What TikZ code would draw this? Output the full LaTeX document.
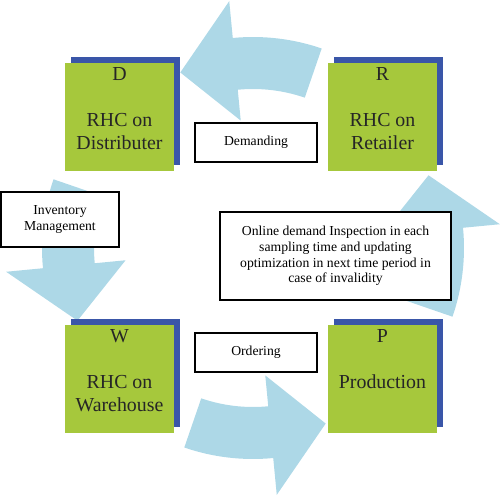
\documentclass[tikz,border=0pt]{standalone}
\usepackage{fontspec}
\setmainfont{Liberation Serif}
\usetikzlibrary{positioning,shadows}
\definecolor{boxgreen}{RGB}{166,200,60}
\definecolor{boxblue}{RGB}{58,86,168}
\definecolor{arrowblue}{RGB}{173,216,231}
\begin{document}
\begin{tikzpicture}[x=0.02cm,y=0.02cm]
    \tikzstyle{every node}=[font=\rmfamily\fontsize{7.8}{9}\selectfont]
    \tikzstyle{agent}=[fill=boxgreen,minimum width=2.18cm,minimum height=2.16cm,
      general shadow={fill=boxblue,shadow xshift=0.12cm,shadow yshift=0.12cm}]
    \tikzstyle{agentname}=[inner sep=0pt,align=center,text=black!85,
      font=\rmfamily\fontsize{11.3}{13}\selectfont]
    \tikzstyle{note}=[draw,fill=white,line width=0.8pt,align=center]

    \useasboundingbox (-253,-249) rectangle (247,248);

    \foreach \r in {0,90,180,270}
      \fill[arrowblue,rotate=\r] (71:211) arc[start angle=71,end angle=95.5,radius=211]
      -- (95.5:248) -- (112.5:190) -- (95.5:128) -- (95.5:159)
      arc[start angle=95.5,end angle=71,radius=159] -- cycle;

    \node[agent] (D) at (-133.5,131) {};
    \node[agentname,below=2.8pt of D.north] (Dtext) {D\\[13pt]RHC on\\Distributer};

    \node[agent] (R) at (129.5,131) {};
    \node[agentname,below=2.8pt of R.north] (Rtext) {R\\[13pt]RHC on\\Retailer};

    \node[agent] (W) at (-133.5,-131) {};
    \node[agentname,below=2.8pt of W.north] (Wtext) {W\\[13pt]RHC on\\Warehouse};

    \node[agent] (P) at (129.5,-131) {};
    \node[agentname,below=2.8pt of P.north] (Ptext) {P\\[13pt]Production};

    \node[note,minimum width=2.44cm,minimum height=0.78cm] (demand) at (3,105.5) {Demanding};
    \node[note,minimum width=2.44cm,minimum height=0.78cm] (order) at (3,-104.5) {Ordering};
    \node[note,minimum width=2.36cm,minimum height=1.1cm] (inventory) at (-193,28.5)
      {Inventory\\Management};
    \node[note,minimum width=4.62cm,minimum height=1.76cm] (online) at (82.5,-8)
      {Online demand Inspection in each\\sampling time and updating\\
       optimization in next time period in\\case of invalidity};
\end{tikzpicture}
\end{document}
